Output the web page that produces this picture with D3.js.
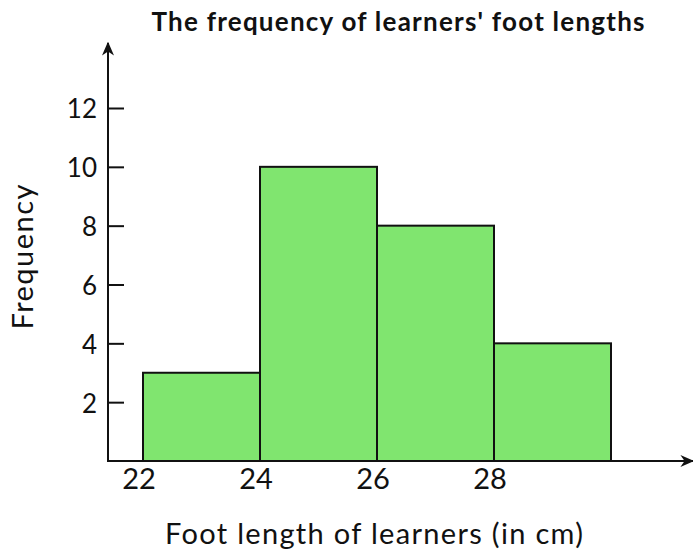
<!DOCTYPE html>
<html>
<head>
<meta charset="utf-8">
<script src="https://cdn.jsdelivr.net/npm/d3@7"></script>
<style>
  html, body { margin: 0; padding: 0; background: #fff; }
  svg { display: block; }
  text { font-family: Lato, "Open Sans", sans-serif; fill: #111; }
</style>
</head>
<body>
<script>
// Class intervals (lower, upper bound in cm) and their frequencies
const binStarts = [22, 24, 26, 28];
const binEnds = [24, 26, 28, 30];
const frequencies = [3, 10, 8, 4];
const xTickValues = [22, 24, 26, 28];
const yTickValues = [2, 4, 6, 8, 10, 12];

const W = 693, H = 555;
const svg = d3.select("body").append("svg").attr("width", W).attr("height", H);

const originX = 108, originY = 461;
const x = d3.scaleLinear().domain([22, 28]).range([143, 494]);
const y = d3.scaleLinear().domain([0, 12]).range([originY, 108]);

// Bars
const bins = binStarts.map((s, i) => ({ s, e: binEnds[i], f: frequencies[i] }));
svg.append("g").selectAll("rect").data(bins).join("rect")
  .attr("x", d => x(d.s))
  .attr("y", d => y(d.f))
  .attr("width", d => x(d.e) - x(d.s))
  .attr("height", d => y(0) - y(d.f))
  .attr("fill", "#80e56f")
  .attr("stroke", "#111")
  .attr("stroke-width", 2);

// Arrowhead marker
const defs = svg.append("defs");
defs.append("marker")
  .attr("id", "arrow")
  .attr("viewBox", "0 0 10 10")
  .attr("refX", 9).attr("refY", 5)
  .attr("markerWidth", 14).attr("markerHeight", 12)
  .attr("markerUnits", "userSpaceOnUse")
  .attr("orient", "auto")
  .attr("preserveAspectRatio", "none")
  .append("path")
  .attr("d", "M0,0 L10,5 L0,10 L3,5 Z")
  .attr("fill", "#111");

// Axes with arrows
svg.append("line")
  .attr("x1", originX).attr("y1", originY)
  .attr("x2", 693).attr("y2", originY)
  .attr("stroke", "#111").attr("stroke-width", 2)
  .attr("marker-end", "url(#arrow)");
svg.append("line")
  .attr("x1", originX).attr("y1", originY + 1)
  .attr("x2", originX).attr("y2", 43)
  .attr("stroke", "#111").attr("stroke-width", 2)
  .attr("marker-end", "url(#arrow)");

// Y ticks (inward) and labels
const yAxis = d3.axisRight(y).tickValues(yTickValues).tickSize(16).tickPadding(0).tickFormat(() => "");
const gy = svg.append("g").attr("transform", `translate(${originX},0)`).call(yAxis);
gy.select(".domain").remove();
gy.selectAll(".tick line").attr("stroke", "#111").attr("stroke-width", 2);
svg.append("g").selectAll("text").data(yTickValues).join("text")
  .attr("x", 97)
  .attr("y", d => y(d) + 1)
  .attr("dy", "0.36em")
  .attr("text-anchor", "end")
  .attr("font-size", 26)
  .text(d => d);

// X tick labels
svg.append("g").selectAll("text").data(xTickValues).join("text")
  .attr("x", d => x(d) - 4)
  .attr("y", 489)
  .attr("text-anchor", "middle")
  .attr("font-size", 29)
  .text(d => d);

// Title and axis titles
svg.append("text")
  .attr("x", 398).attr("y", 31)
  .attr("text-anchor", "middle")
  .attr("font-size", 26)
  .attr("font-weight", "bold")
  .attr("textLength", 493)
  .attr("lengthAdjust", "spacing")
  .text("The frequency of learners' foot lengths");

svg.append("text")
  .attr("x", 374).attr("y", 544)
  .attr("text-anchor", "middle")
  .attr("font-size", 29)
  .attr("textLength", 418)
  .attr("lengthAdjust", "spacing")
  .text("Foot length of learners (in cm)");

svg.append("text")
  .attr("transform", "translate(33,257) rotate(-90)")
  .attr("text-anchor", "middle")
  .attr("font-size", 29)
  .attr("textLength", 145)
  .attr("lengthAdjust", "spacing")
  .text("Frequency");
</script>
</body>
</html>
